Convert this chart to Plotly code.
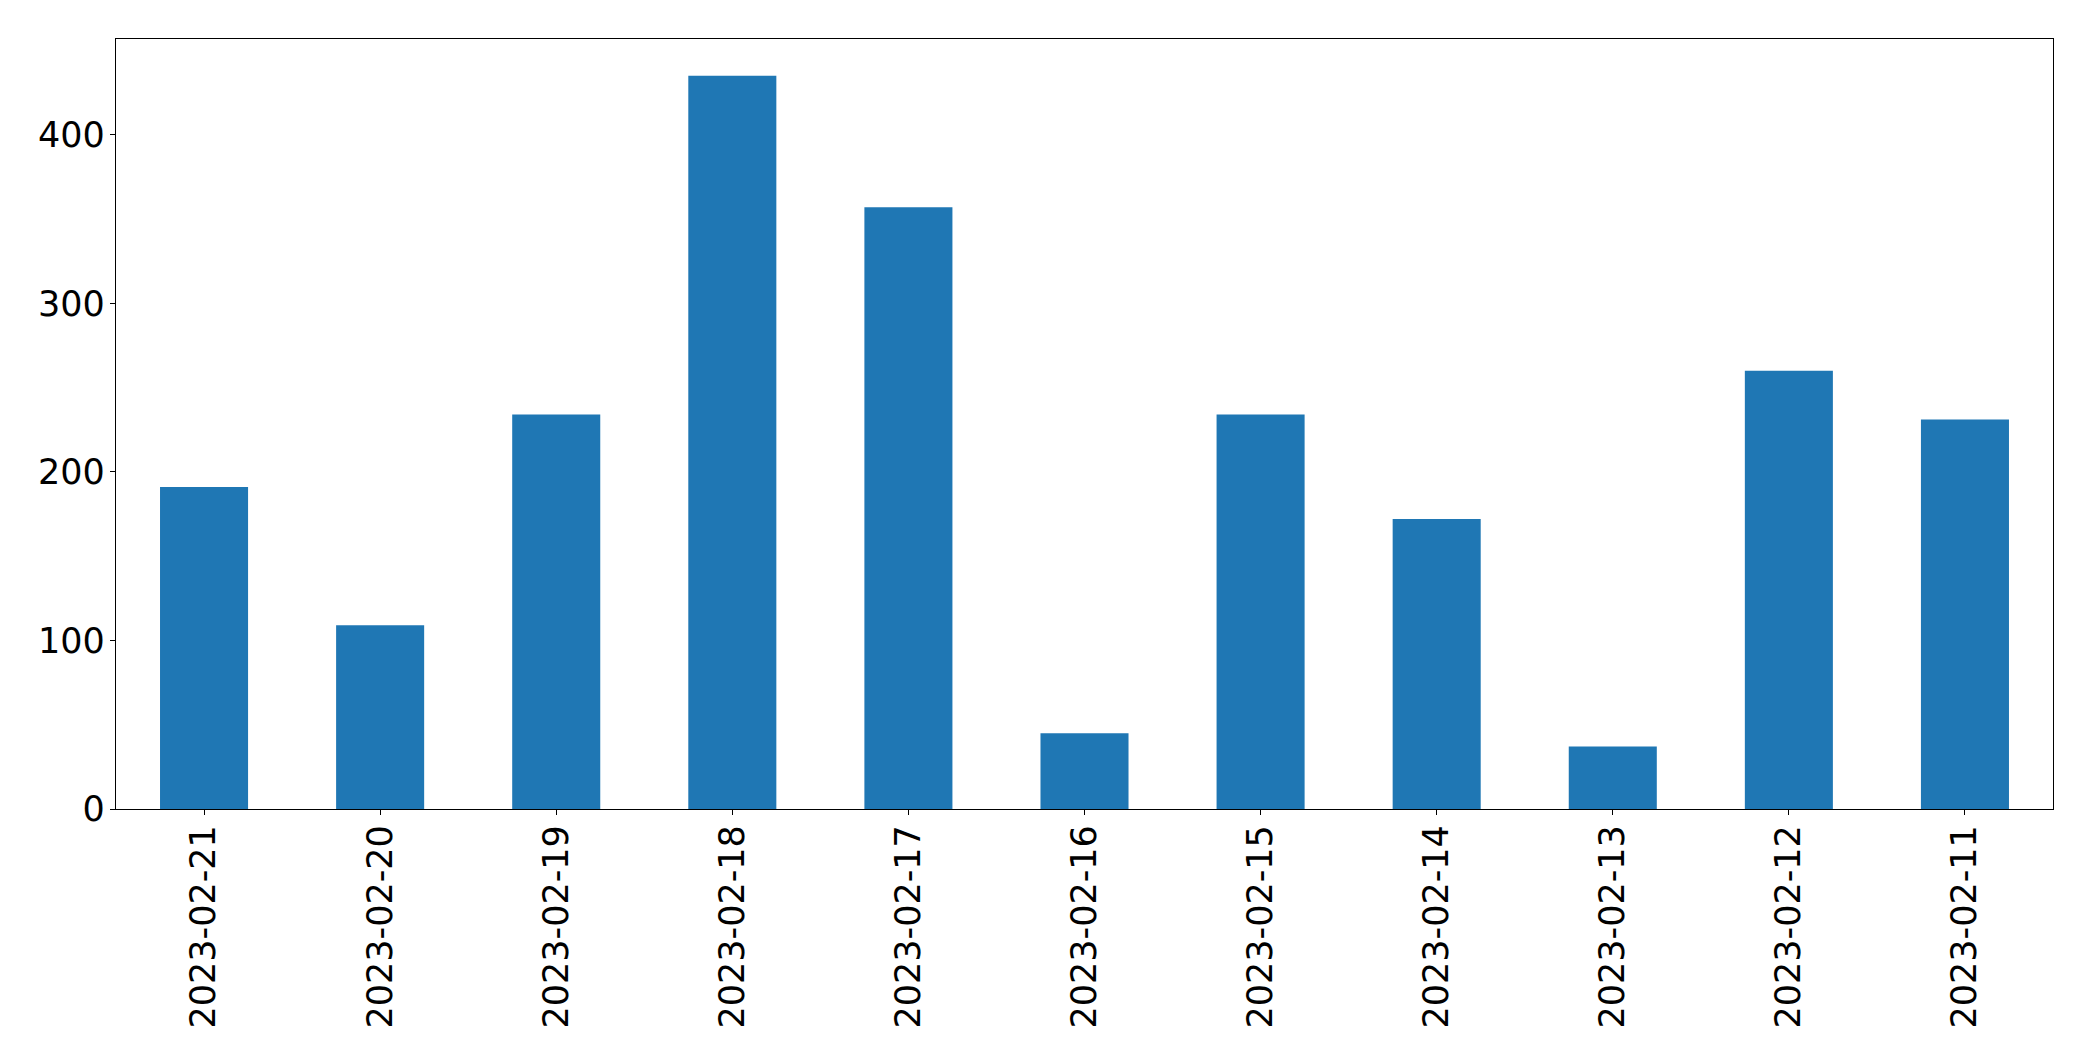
import plotly.graph_objects as go

dates = ["2023-02-21", "2023-02-20", "2023-02-19", "2023-02-18", "2023-02-17",
         "2023-02-16", "2023-02-15", "2023-02-14", "2023-02-13", "2023-02-12",
         "2023-02-11"]
counts = [191, 109, 234, 435, 357, 45, 234, 172, 37, 260, 231]
y_ticks = [0, 100, 200, 300, 400]

fig = go.Figure(go.Bar(x=dates, y=counts, marker=dict(color="#1f77b4", line=dict(width=0))))

ymax = max(counts) * 1.05

# page body has an 8px margin; figure sized to fit inside the window
fig.update_layout(
    width=2077, height=1045,
    margin=dict(l=108, r=32, t=31, b=244, autoexpand=False),
    paper_bgcolor="white", plot_bgcolor="white",
    bargap=0.5,
    showlegend=False,
    font=dict(family="DejaVu Sans", size=35, color="black"),
)
fig.update_xaxes(
    type="category", range=[-0.5, len(dates) - 0.5],
    tickangle=-90, ticks="outside", ticklen=5, tickwidth=1.3, tickcolor="black",
    ticklabelstandoff=-4,
    showline=True, linecolor="black", linewidth=1.3, mirror=True,
    showgrid=False, zeroline=False,
)
fig.update_yaxes(
    range=[0, ymax], tickvals=y_ticks,
    ticks="outside", ticklen=5, tickwidth=1.3, tickcolor="black",
    ticklabelstandoff=-2,
    showline=True, linecolor="black", linewidth=1.3, mirror=True,
    showgrid=False, zeroline=False,
)

fig.write_html("out.html")
